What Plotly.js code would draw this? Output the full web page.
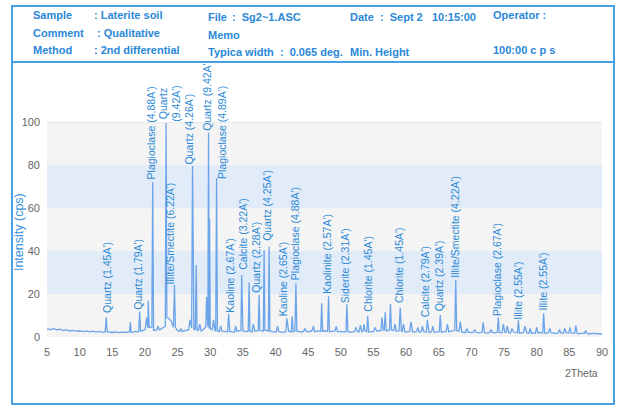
<!DOCTYPE html>
<html>
<head>
<meta charset="utf-8">
<script src="https://cdn.plot.ly/plotly-3.0.1.min.js"></script>
<style>
  html, body { margin: 0; padding: 0; background: #fff; }
  #wrap { position: relative; width: 618px; height: 407px; overflow: hidden; }
  #chart { position: absolute; left: 0; top: 0; width: 618px; height: 407px; }
  #frame { position: absolute; left: 11px; top: 5px; width: 600px; height: 396px;
           border: 2px solid #46a0e1; pointer-events: none; }
  #divider { position: absolute; left: 11px; top: 61px; width: 604px; height: 2px;
             background: #46a0e1; pointer-events: none; }
  .h { position: absolute; font-family: "Liberation Sans", Arial, sans-serif; font-weight: bold;
       font-size: 11px; line-height: 14px; color: #2a88d8; white-space: pre; pointer-events: none; }
</style>
</head>
<body>
<div id="wrap">
  <div id="chart"></div>
  <div id="frame"></div>
  <div id="divider"></div>
  <div class="h" style="left:33px;top:8px">Sample</div>
  <div class="h" style="left:94px;top:8px">: Laterite soil</div>
  <div class="h" style="left:33px;top:26px">Comment</div>
  <div class="h" style="left:97px;top:26px">: Qualitative</div>
  <div class="h" style="left:33px;top:43px">Method</div>
  <div class="h" style="left:94px;top:43px">: 2nd differential</div>
  <div class="h" style="left:208px;top:10px">File</div>
  <div class="h" style="left:232px;top:10px">:  Sg2~1.ASC</div>
  <div class="h" style="left:208px;top:28px">Memo</div>
  <div class="h" style="left:208px;top:45px">Typica width  :  0.065 deg.</div>
  <div class="h" style="left:350px;top:10px">Date  :  Sept 2   10:15:00</div>
  <div class="h" style="left:350px;top:45px">Min. Height</div>
  <div class="h" style="left:493px;top:8px">Operator :</div>
  <div class="h" style="left:493px;top:43px">100:00 c p s</div>
</div>
<script>
// Scan grid (2Theta, deg) and background intensity (cps)
const baseTheta = [
  5, 5.5, 6, 6.5, 7, 7.5, 8, 8.5, 9, 9.5,
  10, 10.5, 11, 11.5, 12, 12.5, 13, 13.5, 14, 14.5,
  15, 15.5, 16, 16.5, 17, 17.5, 18, 18.5, 19, 19.5,
  20, 20.5, 21, 21.5, 22, 22.5, 23, 23.5, 24, 24.5,
  25, 25.5, 26, 26.5, 27, 27.5, 28, 28.5, 29, 29.5,
  30, 30.5, 31, 31.5, 32, 32.5, 33, 33.5, 34, 34.5,
  35, 35.5, 36, 36.5, 37, 37.5, 38, 38.5, 39, 39.5,
  40, 40.5, 41, 41.5, 42, 42.5, 43, 43.5, 44, 44.5,
  45, 45.5, 46, 46.5, 47, 47.5, 48, 48.5, 49, 49.5,
  50, 50.5, 51, 51.5, 52, 52.5, 53, 53.5, 54, 54.5,
  55, 55.5, 56, 56.5, 57, 57.5, 58, 58.5, 59, 59.5,
  60, 60.5, 61, 61.5, 62, 62.5, 63, 63.5, 64, 64.5,
  65, 65.5, 66, 66.5, 67, 67.5, 68, 68.5, 69, 69.5,
  70, 70.5, 71, 71.5, 72, 72.5, 73, 73.5, 74, 74.5,
  75, 75.5, 76, 76.5, 77, 77.5, 78, 78.5, 79, 79.5,
  80, 80.5, 81, 81.5, 82, 82.5, 83, 83.5, 84, 84.5,
  85, 85.5, 86, 86.5, 87, 87.5, 88, 88.5, 89, 89.5,
  90
];
const baseCps = [
  3.8, 3.4, 3.9, 3.3, 3.6, 3.0, 3.4, 2.8, 3.1, 2.7,
  2.9, 2.5, 2.8, 2.4, 2.7, 2.3, 2.6, 2.2, 2.5, 2.3,
  2.1, 2.4, 2.0, 2.3, 2.1, 2.4, 2.2, 2.6, 2.4, 2.8,
  3.6, 4.4, 4.6, 3.1, 3.3, 3.8, 5.0, 9.0, 7.5, 4.5,
  3.0, 2.6, 2.9, 3.4, 4.2, 3.6, 3.1, 2.8, 3.6, 4.8,
  4.0, 3.2, 2.8, 2.5, 2.7, 2.4, 2.6, 2.3, 2.6, 3.0,
  2.8, 2.5, 2.7, 2.4, 2.8, 3.0, 2.7, 3.1, 2.8, 2.5,
  2.3, 2.6, 2.2, 2.5, 2.7, 2.4, 2.8, 2.6, 2.3, 2.7,
  2.4, 2.9, 2.5, 2.8, 2.6, 2.9, 2.7, 2.5, 2.8, 2.4,
  2.6, 2.3, 2.6, 2.2, 2.5, 2.7, 2.4, 2.8, 2.5, 2.3,
  2.6, 2.8, 3.0, 3.2, 2.9, 3.3, 3.0, 2.7, 2.9, 2.6,
  2.4, 2.6, 2.3, 2.5, 2.2, 2.5, 2.3, 2.1, 2.4, 2.2,
  2.5, 2.3, 2.6, 2.4, 2.8, 3.0, 2.7, 2.4, 2.1, 2.3,
  2.0, 2.2, 1.9, 2.2, 2.0, 1.8, 2.1, 1.9, 2.2, 2.0,
  2.3, 2.1, 1.9, 2.2, 2.0, 1.8, 2.1, 1.9, 1.7, 2.0,
  1.8, 2.1, 1.9, 1.7, 2.0, 1.8, 1.6, 1.9, 1.7, 2.0,
  1.8, 1.9, 1.7, 1.5, 1.8, 1.6, 1.4, 1.7, 1.5, 1.6,
  1.4
];

// Reflections: position (2Theta), peak intensity (cps), half base width (deg)
const peakTheta = [14.07, 17.76, 19.19, 20.25, 20.5, 21.19, 22.0, 23.24, 24.52, 25.5,
  26.9, 27.29, 27.85, 28.4, 29.44, 29.74, 29.9, 30.5, 30.97, 31.6,
  32.82, 33.9, 34.82, 35.95, 36.6, 37.48, 38.25, 39.02, 40.3, 41.74,
  42.56, 43.12, 44.5, 45.8, 47.07, 48.12, 49.3, 50.93, 52.3, 53.0,
  53.55, 54.12, 55.2, 56.3, 56.8, 57.6, 58.3, 59.1, 59.6, 60.75,
  61.8, 62.5, 63.25, 64.1, 65.23, 66.33, 67.6, 68.3, 69.3, 70.5,
  71.8, 73.0, 74.12, 74.9, 75.5, 76.2, 77.2, 78.2, 79.0, 80.0,
  81.07, 82.0, 83.5, 84.3, 85.1, 86.0, 87.5];
const peakCps = [9.2, 7.0, 11.8, 9.0, 16.9, 72.0, 5.0, 99.5, 24.2, 4.0,
  8.0, 79.5, 33.5, 6.0, 18.7, 95.0, 55.0, 8.0, 73.8, 5.0,
  10.7, 5.0, 28.8, 25.3, 6.0, 19.5, 40.5, 42.0, 5.0, 8.7,
  9.5, 25.0, 4.0, 5.0, 15.7, 19.0, 5.0, 15.2, 4.5, 5.5,
  6.0, 9.8, 4.5, 9.0, 11.5, 15.5, 6.0, 13.6, 6.0, 7.0,
  4.5, 5.0, 7.9, 5.0, 10.2, 6.0, 26.5, 7.0, 4.0, 3.5,
  6.8, 3.5, 9.0, 6.0, 5.0, 4.0, 7.8, 5.0, 4.0, 4.5,
  11.0, 4.0, 3.5, 4.0, 4.5, 5.3, 3.0];
const peakHalfWidth = [0.15, 0.12, 0.15, 0.2, 0.15, 0.13, 0.2, 0.12, 0.15, 0.2,
  0.2, 0.14, 0.13, 0.2, 0.12, 0.1, 0.08, 0.2, 0.13, 0.2,
  0.15, 0.2, 0.13, 0.13, 0.2, 0.13, 0.12, 0.12, 0.2, 0.15,
  0.15, 0.15, 0.2, 0.2, 0.14, 0.14, 0.2, 0.14, 0.2, 0.2,
  0.15, 0.15, 0.2, 0.15, 0.15, 0.15, 0.2, 0.18, 0.2, 0.2,
  0.2, 0.2, 0.15, 0.2, 0.15, 0.2, 0.15, 0.2, 0.2, 0.2,
  0.18, 0.2, 0.15, 0.2, 0.2, 0.2, 0.15, 0.2, 0.2, 0.2,
  0.15, 0.2, 0.2, 0.2, 0.2, 0.2, 0.2];

// Phase identifications and the reflection each one marks
const labelText = [
  "Quartz (1.45A')", "Quartz (1.79A')", "Plagioclase (4.88A')", "Quartz<br>(9.42A')",
  "Illite/Smectite (6.22A')", "Quartz (4.26A')", "Quartz (9.42A')", "Plagioclase (4.89A')",
  "Kaoline (2.67A')", "Calcite (3.22A')", "Quartz (2.28A')", "Quartz (4.25A')",
  "Kaoline (2.65A')", "Plagioclase (4.88A')", "Kaolinite (2.57A')", "Siderite (2.31A')",
  "Chlorite (1.45A')", "Chlorite (1.45A')", "Calcite (2.79A')", "Quartz (2.39A')",
  "Illite/Smectite (4.22A')", "Plagioclase (2.67A')", "Illite (2.55A')", "Illite (2.55A')"
];
const labelTheta = [14.07, 19.19, 21.19, 23.24, 24.52, 27.29, 29.74, 30.97,
  32.82, 34.82, 37.48, 39.02, 41.74, 43.12, 48.12, 50.93,
  54.12, 59.1, 63.25, 65.23, 67.6, 74.12, 77.2, 81.07];

// Label placement relative to its peak tip (pixels)
const labelDx = [0, -2, -2, 3.5, -4, -3.5, -1, 5.5, 1, 0.5, -4, -1.5,
  -4, -1.5, -1, -2.5, 0, -1, -2.5, -1.5, -1, -1.5, 0, -0.5];
const labelGap = [3, 1, 2, 0, 0, 0, 1, -2, 0, 4, 1, 5,
  1, 2, 1, 0, 3, 4, 2, 3, 1, 1, 0, 2];

// Assemble the scan: background samples plus each reflection's foot-apex-foot profile
function nearestBase(t) {
  let best = 0;
  for (let i = 1; i < baseTheta.length; i++) {
    if (Math.abs(baseTheta[i] - t) < Math.abs(baseTheta[best] - t)) best = i;
  }
  return baseCps[best];
}
const pts = [];
baseTheta.forEach((t, i) => {
  const inside = peakTheta.some((p, k) => t > p - peakHalfWidth[k] && t < p + peakHalfWidth[k]);
  if (!inside) pts.push([t, baseCps[i]]);
});
peakTheta.forEach((p, k) => {
  const w = peakHalfWidth[k];
  pts.push([p - w, nearestBase(p - w)]);
  pts.push([p, peakCps[k]]);
  pts.push([p + w, nearestBase(p + w)]);
});
pts.sort((a, b) => a[0] - b[0]);

const trace = {
  x: pts.map(p => p[0]),
  y: pts.map(p => p[1]),
  type: 'scatter',
  mode: 'lines',
  line: { color: '#6ca4ea', width: 1.3 },
  hoverinfo: 'skip',
  showlegend: false
};

const sans = 'Liberation Sans, Arial, sans-serif';
const labelFont = { family: sans, size: 10.5, color: '#2b8ad6' };
const annotations = labelText.map((txt, i) => {
  const k = peakTheta.indexOf(labelTheta[i]);
  return {
    x: labelTheta[i], y: peakCps[k], xref: 'x', yref: 'y',
    text: txt, textangle: -90, showarrow: false,
    xanchor: 'center', yanchor: 'bottom',
    xshift: labelDx[i], yshift: labelGap[i],
    borderpad: 0, font: labelFont
  };
});
// x-axis unit at the right end, y-axis title beside the tick labels
annotations.push({
  xref: 'paper', yref: 'paper', x: 1, y: -0.166, xanchor: 'right', yanchor: 'middle',
  xshift: -2, text: '2Theta', showarrow: false,
  font: { family: sans, size: 10.5, color: '#666666' }
});
annotations.push({
  xref: 'paper', yref: 'paper', x: -0.0505, y: 0.488, xanchor: 'center', yanchor: 'middle',
  text: 'Intensity (cps)', textangle: -90, showarrow: false, borderpad: 0,
  font: { family: sans, size: 12.5, color: '#3a92dc' }
});

// Alternating horizontal bands every 20 cps
const bandLow = [0, 20, 40, 60, 80];
const bandColor = ['#f4f4f4', '#e2ebf8', '#f4f4f4', '#e2ebf8', '#f4f4f4'];
const shapes = bandLow.map((y0, i) => ({
  type: 'rect', xref: 'paper', yref: 'y', x0: 0, x1: 1, y0: y0, y1: y0 + 20,
  fillcolor: bandColor[i], line: { width: 0 }, layer: 'below'
}));
shapes.push({ type: 'line', xref: 'paper', yref: 'y', x0: 0, x1: 1, y0: 100, y1: 100,
  line: { color: '#dcdcdc', width: 1 }, layer: 'below' });

const tickFont = { family: 'Liberation Sans Narrow, Liberation Sans, Arial, sans-serif', size: 11, color: '#666666' };
const layout = {
  width: 618, height: 407,
  margin: { l: 47, r: 16, t: 122, b: 70, pad: 0 },
  paper_bgcolor: '#ffffff', plot_bgcolor: '#ffffff',
  xaxis: {
    range: [5, 90], tick0: 5, dtick: 5, showgrid: false, zeroline: false, showline: false,
    ticks: '', tickfont: tickFont, ticklabelstandoff: 7, fixedrange: true
  },
  yaxis: {
    range: [0, 100], tick0: 0, dtick: 20, showgrid: false, zeroline: false, showline: false,
    ticks: '', tickfont: tickFont, ticklabelstandoff: 6, fixedrange: true
  },
  shapes: shapes,
  annotations: annotations
};

Plotly.newPlot('chart', [trace], layout, { displayModeBar: false, staticPlot: true });
</script>
</body>
</html>
